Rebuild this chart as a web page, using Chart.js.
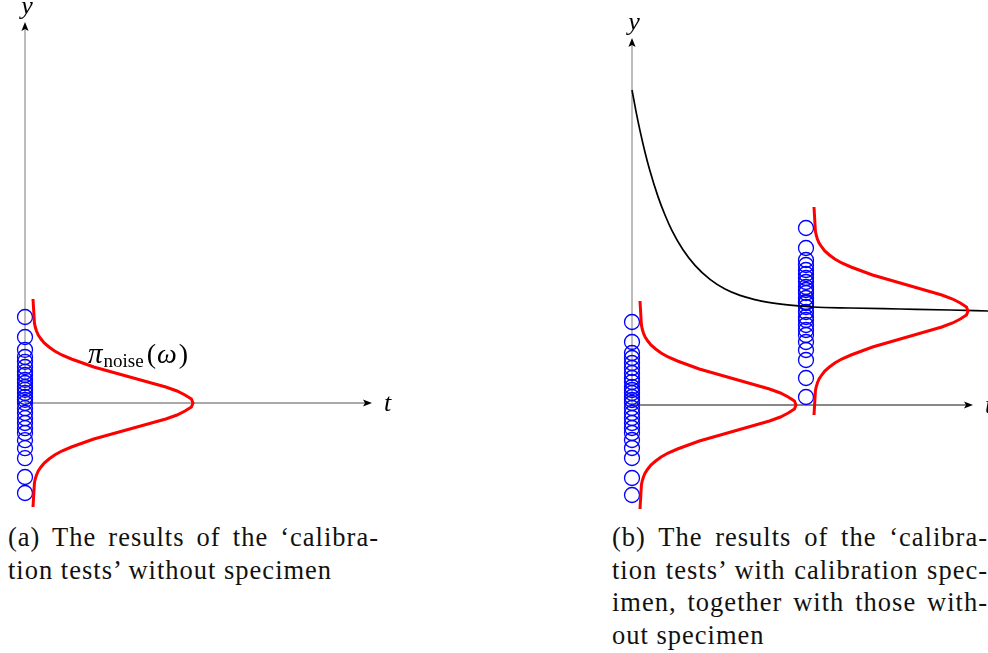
<!DOCTYPE html>
<html>
<head>
<meta charset="utf-8">
<script src="https://cdn.jsdelivr.net/npm/chart.js@4"></script>
<style>
  html, body { margin: 0; padding: 0; background: #fff; }
  body { width: 988px; height: 653px; position: relative; overflow: hidden; }
  canvas { position: absolute; top: 0; }
  #chartA { left: 0; }
  #chartB { left: 600px; }
  .caption { position: absolute; font-family: "Liberation Serif", serif; font-size: 26.5px; letter-spacing: 1px; line-height: 32.5px; color: #111; }
  .caption div { white-space: nowrap; }
  .caption .full { text-align: justify; text-align-last: justify; }
</style>
</head>
<body>
<canvas id="chartA" width="430" height="520"></canvas>
<canvas id="chartB" width="388" height="520"></canvas>

<div class="caption" style="left:8px; top:521px; width:371px;">
  <div class="full">(a) The results of the ‘calibra-</div>
  <div>tion tests’ without specimen</div>
</div>
<div class="caption" style="left:612px; top:521px; width:376px;">
  <div class="full">(b) The results of the ‘calibra-</div>
  <div class="full">tion tests’ with calibration spec-</div>
  <div class="full">imen, together with those with-</div>
  <div>out specimen</div>
</div>

<script>
// calibration readings without specimen (left panel)
const noiseA = [2.15, 1.65, 1.33, 1.15, 1.03, 0.9, 0.78, 0.7, 0.58, 0.5, 0.4, 0.33, 0.25, 0.15, 0.08, 0,
  -0.13, -0.25, -0.38, -0.5, -0.63, -0.75, -0.93, -1.13, -1.38, -1.85, -2.25];

// readings without specimen (right panel)
const noiseB = [2.075, 1.575, 1.3, 1.175, 1.05, 0.925, 0.8, 0.675, 0.575, 0.45, 0.375, 0.3, 0.2, 0.125, 0.05,
  -0.075, -0.2, -0.325, -0.45, -0.575, -0.7, -0.875, -1.075, -1.325, -1.825, -2.25];

// readings with calibration specimen
const specimenT = 4.35;
const specimenB = [4.425, 3.925, 3.625, 3.5, 3.375, 3.275, 3.175, 3.075, 2.95, 2.875, 2.8, 2.675, 2.575, 2.55,
  2.45, 2.325, 2.2, 2.125, 2.0, 1.875, 1.75, 1.575, 1.375, 1.125, 0.675, 0.2];

// specimen response curve
const decayT = [0, 0.1, 0.2, 0.325, 0.45, 0.65, 0.825, 1.0, 1.275, 1.575, 1.95, 2.325, 2.7, 3.075, 3.375, 3.95, 4.525, 5.45, 6.7, 7.95, 8.9];
const decayY = [7.875, 7.34, 6.86, 6.32, 5.85, 5.21, 4.75, 4.36, 3.88, 3.49, 3.14, 2.9, 2.74, 2.635, 2.57, 2.495, 2.45, 2.425, 2.4, 2.375, 2.35];

// noise density profile: offset from the centre vs relative width
const profileOffset = [0, 0.1, 0.2, 0.3, 0.4, 0.5, 0.6, 0.7, 0.8, 0.9, 1.0, 1.1, 1.2, 1.3, 1.4, 1.5, 1.6, 1.7, 1.8, 1.9, 2.0, 2.6];
const profileWidth  = [1, 0.99, 0.95, 0.9, 0.83, 0.74, 0.65, 0.56, 0.47, 0.38, 0.31, 0.24, 0.18, 0.135, 0.1, 0.07, 0.05, 0.033, 0.022, 0.014, 0.009, 0];

// axis extents
const axisA = { tMax: 8.675, yMax: 9.525 };
const axisB = { tMax: 8.525, yMax: 9.175 };

// place the density profile sideways at a given base / centre
function bellCurve(baseT, centerY, height) {
  const pts = [];
  for (let i = profileOffset.length - 1; i >= 0; i--) {
    pts.push({ x: baseT + height * profileWidth[i], y: centerY + profileOffset[i] });
  }
  for (let i = 1; i < profileOffset.length; i++) {
    pts.push({ x: baseT + height * profileWidth[i], y: centerY - profileOffset[i] });
  }
  return pts;
}

function circles(t, values) {
  return {
    data: values.map(v => ({ x: t, y: v })),
    showLine: false,
    pointRadius: 7.5,
    pointHoverRadius: 7.5,
    pointBorderColor: '#0000ff',
    pointBackgroundColor: 'rgba(0,0,0,0)',
    pointBorderWidth: 1.3,
    clip: false
  };
}

function curve(points, color, width, extra) {
  return Object.assign({
    data: points,
    showLine: true,
    pointRadius: 0,
    borderColor: color,
    borderWidth: width,
    tension: 0,
    clip: false
  }, extra || {});
}

// axes with arrow heads, plus the t / y labels
const arrowAxes = {
  id: 'arrowAxes',
  beforeDatasetsDraw(chart, args, opts) {
    const { ctx, scales: { x, y } } = chart;
    const x0 = x.getPixelForValue(0), y0 = y.getPixelForValue(0);
    const xEnd = x.getPixelForValue(opts.tMax), yEnd = y.getPixelForValue(opts.yMax);
    ctx.save();
    ctx.lineWidth = 1;
    ctx.strokeStyle = opts.yColor;
    ctx.beginPath();
    ctx.moveTo(x0, y0);
    ctx.lineTo(x0, yEnd + 6);
    ctx.stroke();
    ctx.strokeStyle = opts.tColor;
    ctx.beginPath();
    ctx.moveTo(x0, y0);
    ctx.lineTo(xEnd - 6, y0);
    ctx.stroke();

    ctx.fillStyle = '#000';
    ctx.beginPath();
    ctx.moveTo(x0, yEnd);
    ctx.lineTo(x0 - 3.6, yEnd + 9);
    ctx.lineTo(x0, yEnd + 7);
    ctx.lineTo(x0 + 3.6, yEnd + 9);
    ctx.closePath();
    ctx.fill();
    ctx.beginPath();
    ctx.moveTo(xEnd, y0);
    ctx.lineTo(xEnd - 9, y0 - 3.6);
    ctx.lineTo(xEnd - 7, y0);
    ctx.lineTo(xEnd - 9, y0 + 3.6);
    ctx.closePath();
    ctx.fill();

    ctx.font = 'italic 26px "Liberation Serif", serif';
    ctx.textAlign = 'center';
    ctx.textBaseline = 'alphabetic';
    ctx.fillText('y', x0 + 2, yEnd - 8);
    ctx.textAlign = 'left';
    ctx.fillText('t', xEnd + 12, y0 + 8);

    if (opts.density) {
      let px = x.getPixelForValue(opts.density.t);
      const py = y.getPixelForValue(opts.density.y);
      ctx.font = 'italic 29px "Liberation Serif", serif';
      ctx.fillText('π', px, py);
      px += ctx.measureText('π').width + 1;
      ctx.font = '19px "Liberation Serif", serif';
      ctx.fillText('noise', px, py + 4);
      px += ctx.measureText('noise').width + 3;
      ctx.font = '28px "Liberation Serif", serif';
      ctx.fillText('(', px, py);
      px += ctx.measureText('(').width + 1;
      ctx.font = 'italic 28px "Liberation Serif", serif';
      ctx.fillText('ω', px, py);
      px += ctx.measureText('ω').width + 2;
      ctx.font = '28px "Liberation Serif", serif';
      ctx.fillText(')', px, py);
    }
    ctx.restore();
  }
};

function baseOptions(xMin, xMax, yMin, yMax, axisOpts) {
  return {
    responsive: false,
    animation: false,
    devicePixelRatio: 1,
    events: [],
    layout: { padding: 0, autoPadding: false },
    plugins: { legend: { display: false }, tooltip: { enabled: false }, arrowAxes: axisOpts },
    scales: {
      x: { type: 'linear', display: false, min: xMin, max: xMax },
      y: { type: 'linear', display: false, min: yMin, max: yMax }
    }
  };
}

new Chart(document.getElementById('chartA'), {
  type: 'scatter',
  data: {
    datasets: [
      curve(bellCurve(0.2, 0, 4.0), '#ff0000', 3),
      circles(0, noiseA)
    ]
  },
  options: baseOptions(-0.625, 10.125, -2.925, 10.075,
    Object.assign({ yColor: '#7a7a7a', tColor: '#555', density: { t: 1.575, y: 1.0 } }, axisA)),
  plugins: [arrowAxes]
});

new Chart(document.getElementById('chartB'), {
  type: 'scatter',
  data: {
    datasets: [
      curve(bellCurve(0.2, 0, 3.9), '#ff0000', 3),
      curve(bellCurve(4.55, 2.35, 3.85), '#ff0000', 3),
      curve(decayT.map((t, i) => ({ x: t, y: decayY[i] })), '#000', 1.7, { cubicInterpolationMode: 'monotone' }),
      circles(0, noiseB),
      circles(specimenT, specimenB)
    ]
  },
  options: baseOptions(-0.8, 8.9, -2.875, 10.125,
    Object.assign({ yColor: '#7a7a7a', tColor: '#111' }, axisB)),
  plugins: [arrowAxes]
});
</script>
</body>
</html>
